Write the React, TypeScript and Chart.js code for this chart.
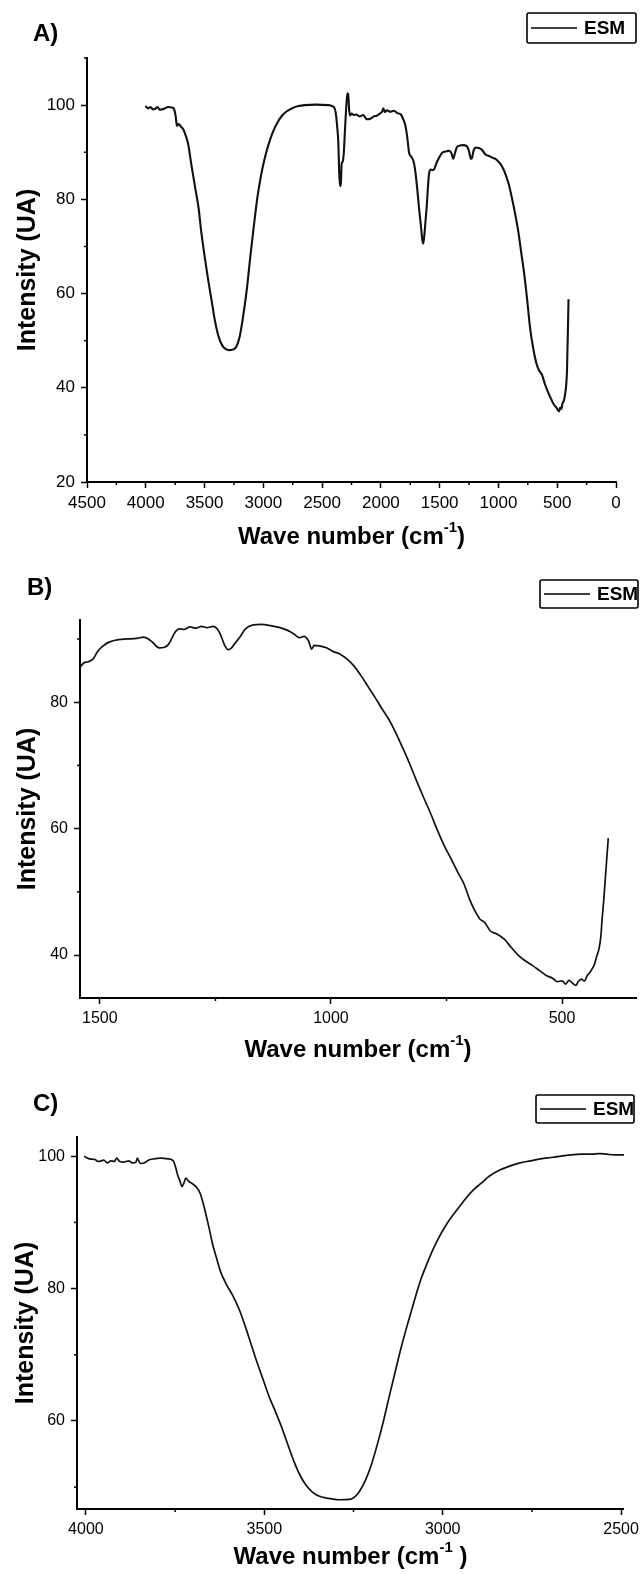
import React, { useEffect, useRef } from "react";
import { Chart, registerables } from "chart.js";

Chart.register(...registerables);

const FONT = '"Liberation Sans", Arial, Helvetica, sans-serif';

// ---------- Data ----------
const seriesLabel = "ESM";
const yAxisTitle = "Intensity (UA)";
const xAxisTitle = "Wave number (cm";
const xAxisTitleSup = "-1";

// Panel A: full spectrum
const aWave = [
  4003, 3980, 3960, 3940, 3920, 3900, 3880, 3860, 3840, 3810,
  3780, 3760, 3745, 3735, 3720, 3700, 3680, 3660, 3640, 3610,
  3580, 3550, 3530, 3500, 3470, 3440, 3410, 3380, 3350, 3320,
  3290, 3260, 3230, 3200, 3170, 3140, 3110, 3080, 3050, 3020,
  2990, 2960, 2920, 2880, 2840, 2800, 2750, 2700, 2650, 2550,
  2450, 2400, 2385, 2372, 2362, 2355, 2348, 2340, 2334, 2325,
  2315, 2305, 2295, 2285, 2278, 2270, 2262, 2250, 2230, 2210,
  2180, 2150, 2120, 2090, 2060, 2030, 2010, 1990, 1980, 1965,
  1950, 1920, 1890, 1860, 1830, 1810, 1790, 1775, 1760, 1740,
  1720, 1705, 1690, 1675, 1660, 1648, 1640, 1630, 1620, 1610,
  1600, 1590, 1575, 1560, 1545, 1530, 1510, 1490, 1470, 1440,
  1420, 1400, 1385, 1370, 1355, 1330, 1300, 1270, 1250, 1235,
  1225, 1210, 1190, 1170, 1140, 1110, 1080, 1050, 1020, 1000,
  970, 935, 910, 883, 855, 830, 805, 780, 755, 730,
  705, 675, 650, 630, 605, 580, 555, 530, 510, 495,
  485, 475, 465, 455, 443, 432, 424, 417, 413, 408,
  404,
];
const aIntensity = [
  99.8, 99.3, 99.6, 99.1, 99.2, 99.6, 99.0, 99.1, 99.3, 99.6,
  99.5, 99.2, 97.5, 95.6, 96.0, 95.4, 94.8, 93.5, 91.8, 87.0,
  82.5, 78.0, 73.5, 68.0, 63.0, 58.5, 54.0, 50.8, 49.0, 48.2,
  48.0, 48.1, 48.7, 51.0, 55.5, 61.0, 68.0, 74.5, 80.5, 85.0,
  88.5, 91.3, 94.2, 96.3, 97.8, 98.7, 99.4, 99.8, 100.0, 100.1,
  100.0, 99.6, 98.5, 95.5, 92.0, 86.0, 82.8, 83.5, 87.5, 88.0,
  90.0, 95.0, 99.5, 102.5, 102.3, 99.0, 97.8, 98.2, 97.9, 98.0,
  97.6, 97.9, 97.0, 97.1, 97.6, 97.8, 98.2, 98.6, 99.3, 98.5,
  98.9, 98.6, 98.8, 98.3, 98.0, 97.0, 95.5, 93.0, 89.9, 89.0,
  87.8, 85.5, 82.0, 78.0, 74.5, 71.5, 70.6, 72.5, 75.5, 78.5,
  82.5, 85.5, 86.3, 86.2, 86.5, 87.5, 88.6, 89.5, 90.0, 90.2,
  90.3, 89.8, 88.6, 89.8, 91.0, 91.4, 91.5, 91.3, 90.2, 88.6,
  88.8, 90.5, 91.0, 90.9, 90.5, 89.5, 89.2, 88.8, 88.5, 88.0,
  87.0, 85.0, 83.0, 80.0, 76.5, 73.0, 68.5, 64.0, 58.5, 52.5,
  48.5, 45.0, 43.5, 42.8, 40.8, 39.2, 37.8, 36.5, 35.9, 35.3,
  35.0, 35.8, 35.5, 36.7, 37.3, 38.8, 40.5, 43.5, 48.0, 53.5,
  58.8,
];
const aXTicks = [4500, 4000, 3500, 3000, 2500, 2000, 1500, 1000, 500, 0];
const aYTicks = [20, 40, 60, 80, 100];
const aXMinorTicks = [4250, 3750, 3250, 2750, 2250, 1750, 1250, 750, 250];
const aYMinorTicks = [30, 50, 70, 90, 110];

// Panel B: 1550 - 400 cm-1
const bWave = [
  1543, 1535, 1525, 1515, 1505, 1495, 1480, 1460, 1440, 1420,
  1405, 1395, 1385, 1372, 1360, 1352, 1345, 1338, 1328, 1318,
  1305, 1292, 1280, 1268, 1255, 1245, 1238, 1230, 1222, 1215,
  1208, 1198, 1185, 1170, 1150, 1130, 1110, 1095, 1080, 1068,
  1058, 1048, 1042, 1036, 1025, 1010, 995, 980, 965, 950,
  935, 920, 905, 890, 875, 860, 845, 830, 815, 800,
  785, 770, 755, 740, 725, 712, 700, 690, 678, 668,
  655, 640, 625, 610, 595, 580, 565, 550, 535, 520,
  510, 500, 492, 485, 478, 470, 465, 458, 452, 445,
  440, 435, 430, 425, 420, 416, 413, 410, 406, 402,
  400,
];
const bIntensity = [
  85.5, 86.2, 86.4, 86.8, 88.0, 88.8, 89.5, 89.9, 90.0, 90.1,
  90.3, 90.0, 89.4, 88.6, 88.7, 89.1, 90.0, 91.0, 91.6, 91.5,
  91.9, 91.7, 92.0, 91.8, 92.0, 91.5, 90.5, 89.0, 88.3, 88.6,
  89.3, 90.2, 91.6, 92.2, 92.3, 92.1, 91.8, 91.4, 90.8, 90.2,
  90.4, 89.6, 88.4, 89.0, 88.9, 88.6, 88.0, 87.6, 86.8, 85.7,
  84.2, 82.5, 80.8, 79.0, 77.3, 75.2, 72.8, 70.3, 67.6, 65.0,
  62.5, 59.8, 57.3, 55.2, 53.0, 51.2, 48.8, 47.2, 45.7, 45.2,
  43.8, 43.3, 42.5, 41.2, 40.0, 39.1, 38.4, 37.6, 36.8, 36.3,
  35.8, 35.9, 35.4, 36.0, 35.6, 35.2, 35.8, 36.2, 35.9, 36.8,
  37.2, 37.8, 38.5, 39.8, 41.0, 43.0, 46.0, 48.5, 52.5, 56.5,
  58.5,
];
const bXTicks = [1500, 1000, 500];
const bYTicks = [40, 60, 80];
const bXMinorTicks = [1250, 750];
const bYMinorTicks = [50, 70, 90];

// Panel C: 4000 - 2500 cm-1
const cWave = [
  4005, 3990, 3975, 3965, 3950, 3940, 3930, 3920, 3914, 3905,
  3895, 3880, 3870, 3860, 3856, 3848, 3835, 3825, 3810, 3790,
  3770, 3755, 3748, 3742, 3736, 3731, 3725, 3720, 3712, 3703,
  3690, 3680, 3672, 3665, 3655, 3645, 3635, 3623, 3605, 3589,
  3570, 3554, 3537, 3520, 3503, 3486, 3468, 3451, 3434, 3417,
  3400, 3383, 3366, 3349, 3320, 3291, 3257, 3245, 3234, 3217,
  3200, 3183, 3166, 3149, 3132, 3115, 3097, 3080, 3063, 3046,
  3029, 3012, 2994, 2977, 2960, 2937, 2914, 2890, 2869, 2840,
  2812, 2783, 2754, 2726, 2697, 2668, 2640, 2612, 2583, 2560,
  2540, 2520, 2492,
];
const cIntensity = [
  100.0, 99.6, 99.5, 99.2, 99.4, 99.0, 99.3, 99.2, 99.7, 99.2,
  99.1, 99.3, 99.0, 99.1, 99.7, 98.9, 99.0, 99.4, 99.6, 99.7,
  99.6, 99.3, 98.2, 97.0, 96.2, 95.4, 96.0, 96.7, 96.2, 95.9,
  95.3, 94.4, 93.0, 91.5, 89.2, 86.7, 84.8, 82.6, 80.5, 79.0,
  76.8, 74.4, 71.6, 68.8, 66.2, 63.6, 61.3, 59.0, 56.4, 53.9,
  51.8, 50.3, 49.3, 48.7, 48.3, 48.1, 48.2, 48.6, 49.3, 51.0,
  53.4, 56.5, 60.0, 63.9, 67.7, 71.4, 74.9, 78.1, 81.1, 83.5,
  85.7, 87.6, 89.3, 90.7, 91.9, 93.5, 94.9, 96.0, 97.0, 97.9,
  98.5, 99.0, 99.3, 99.6, 99.8, 100.0, 100.2, 100.3, 100.3, 100.4,
  100.3, 100.2, 100.2,
];
const cXTicks = [4000, 3500, 3000, 2500];
const cYTicks = [60, 80, 100];
const cXMinorTicks = [3750, 3250, 2750];
const cYMinorTicks = [50, 70, 90];

// ---------- Layout ----------
type PanelSpec = {
  letter: string;
  wave: number[];
  intensity: number[];
  xMin: number; xMax: number; xTicks: number[]; xMinor: number[];
  yMin: number; yMax: number; yTicks: number[]; yMinor: number[];
  top: number; height: number;
  area: { left: number; right: number; top: number; bottom: number };
  letterAt: [number, number];
  legendBox: [number, number, number, number];
  titleBaseline: number;
  titleClose: string;
  yTitleCenter: number;
  tickSize: number;
  lineWidth: number;
};

const panels: PanelSpec[] = [
  {
    letter: "A)", wave: aWave, intensity: aIntensity,
    xMin: 0, xMax: 4500, xTicks: aXTicks, xMinor: aXMinorTicks,
    yMin: 20, yMax: 110, yTicks: aYTicks, yMinor: aYMinorTicks,
    top: 0, height: 560,
    area: { left: 87, right: 616, top: 58, bottom: 482 },
    letterAt: [33, 41],
    legendBox: [527, 13, 109, 30],
    titleBaseline: 544, titleClose: ")",
    yTitleCenter: 28, tickSize: 17, lineWidth: 2.1,
  },
  {
    letter: "B)", wave: bWave, intensity: bIntensity,
    xMin: 340, xMax: 1543, xTicks: bXTicks, xMinor: bXMinorTicks,
    yMin: 33.2, yMax: 93, yTicks: bYTicks, yMinor: bYMinorTicks,
    top: 560, height: 510,
    area: { left: 80, right: 636, top: 60, bottom: 438 },
    letterAt: [27, 35],
    legendBox: [540, 20, 98, 28],
    titleBaseline: 497, titleClose: ")",
    yTitleCenter: 28, tickSize: 16, lineWidth: 1.7,
  },
  {
    letter: "C)", wave: cWave, intensity: cIntensity,
    xMin: 2492, xMax: 4025, xTicks: cXTicks, xMinor: cXMinorTicks,
    yMin: 46.7, yMax: 102.9, yTicks: cYTicks, yMinor: cYMinorTicks,
    top: 1070, height: 504,
    area: { left: 77, right: 627, top: 67, bottom: 439 },
    letterAt: [33, 41],
    legendBox: [536, 25, 98, 28],
    titleBaseline: 494, titleClose: " )",
    yTitleCenter: 26, tickSize: 16, lineWidth: 1.7,
  },
];

// ---------- Decorations plugin ----------
const decorPlugin = {
  id: "decor",
  afterDraw(chart: any, _args: any, opts: any) {
    const ctx: CanvasRenderingContext2D = chart.ctx;
    const xs = chart.scales.x;
    const ys = chart.scales.y;
    const area = chart.chartArea;
    ctx.save();
    ctx.fillStyle = "#000";
    ctx.strokeStyle = "#000";

    // minor ticks
    ctx.lineWidth = 1.5;
    for (const v of opts.xMinor as number[]) {
      const px = xs.getPixelForValue(v);
      ctx.beginPath();
      ctx.moveTo(px, area.bottom);
      ctx.lineTo(px, area.bottom + 3);
      ctx.stroke();
    }
    for (const v of opts.yMinor as number[]) {
      const py = ys.getPixelForValue(v);
      ctx.beginPath();
      ctx.moveTo(area.left, py);
      ctx.lineTo(area.left - 3, py);
      ctx.stroke();
    }

    // panel letter
    ctx.font = `bold 24px ${FONT}`;
    ctx.textAlign = "left";
    ctx.textBaseline = "alphabetic";
    ctx.fillText(opts.letter, opts.letterAt[0], opts.letterAt[1]);

    // x axis title with superscript
    const mainFont = `bold 24px ${FONT}`;
    const supFont = `bold 15px ${FONT}`;
    ctx.font = mainFont;
    const w1 = ctx.measureText(xAxisTitle).width;
    const w3 = ctx.measureText(opts.titleClose).width;
    ctx.font = supFont;
    const w2 = ctx.measureText(xAxisTitleSup).width;
    const cx = (area.left + area.right) / 2;
    const x0 = cx - (w1 + w2 + w3) / 2;
    const base = opts.titleBaseline;
    ctx.font = mainFont;
    ctx.fillText(xAxisTitle, x0, base);
    ctx.font = supFont;
    ctx.fillText(xAxisTitleSup, x0 + w1, base - 12);
    ctx.font = mainFont;
    ctx.fillText(opts.titleClose, x0 + w1 + w2, base);

    // legend box
    const [lx, ly, lw, lh] = opts.legendBox as number[];
    ctx.lineWidth = 1.6;
    ctx.beginPath();
    if ((ctx as any).roundRect) (ctx as any).roundRect(lx, ly, lw, lh, 2);
    else ctx.rect(lx, ly, lw, lh);
    ctx.stroke();
    const cy = ly + lh / 2;
    const ds = chart.data.datasets[0];
    ctx.beginPath();
    ctx.moveTo(lx + 4, cy);
    ctx.lineTo(lx + 50, cy);
    ctx.stroke();
    ctx.font = `bold 19px ${FONT}`;
    ctx.textBaseline = "middle";
    ctx.fillText(ds.label, lx + 57, cy + 1);

    ctx.restore();
  },
};

function buildConfig(p: PanelSpec): any {
  const points = p.wave.map((w, i) => ({ x: w, y: p.intensity[i] }));
  const xAxisHeight = p.height - p.area.bottom;
  const tickFont = { family: FONT, size: p.tickSize };
  return {
    type: "line",
    data: {
      datasets: [
        {
          label: seriesLabel,
          data: points,
          borderColor: "#111",
          borderWidth: p.lineWidth,
          pointRadius: 0,
          cubicInterpolationMode: "monotone",
          fill: false,
        },
      ],
    },
    options: {
      animation: false,
      responsive: false,
      events: [],
      layout: {
        padding: { left: 0, top: p.area.top, right: 644 - p.area.right, bottom: 0 },
      },
      plugins: {
        legend: { display: false },
        tooltip: { enabled: false },
        decor: {
          letter: p.letter,
          letterAt: p.letterAt,
          legendBox: p.legendBox,
          titleBaseline: p.titleBaseline,
          titleClose: p.titleClose,
          xMinor: p.xMinor,
          yMinor: p.yMinor,
        },
      },
      scales: {
        x: {
          type: "linear",
          reverse: true,
          min: p.xMin,
          max: p.xMax,
          afterBuildTicks: (s: any) => { s.ticks = p.xTicks.map((v) => ({ value: v })); },
          afterFit: (s: any) => { s.height = xAxisHeight; },
          border: { display: true, color: "#000", width: 2 },
          grid: {
            display: true, drawOnChartArea: false, drawTicks: true,
            tickLength: 6, color: "#000", tickColor: "#000", tickWidth: 1.5,
          },
          ticks: {
            autoSkip: false, maxRotation: 0, minRotation: 0,
            color: "#000", font: tickFont, padding: 5,
            callback: (v: number) => String(v),
          },
        },
        y: {
          type: "linear",
          min: p.yMin,
          max: p.yMax,
          afterBuildTicks: (s: any) => { s.ticks = p.yTicks.map((v) => ({ value: v })); },
          afterFit: (s: any) => { s.width = p.area.left; },
          border: { display: true, color: "#000", width: 2 },
          grid: {
            display: true, drawOnChartArea: false, drawTicks: true,
            tickLength: 6, color: "#000", tickColor: "#000", tickWidth: 1.5,
          },
          ticks: {
            autoSkip: false, color: "#000", font: tickFont, padding: 6,
            callback: (v: number) => String(v),
          },
          title: {
            display: true,
            text: yAxisTitle,
            color: "#000",
            font: { family: FONT, size: 25, weight: "bold", lineHeight: 1 },
            padding: { top: p.yTitleCenter - 12.5, bottom: 0 },
          },
        },
      },
    },
    plugins: [decorPlugin],
  };
}

function PanelChart({ spec }: { spec: PanelSpec }) {
  const ref = useRef<HTMLCanvasElement>(null);
  useEffect(() => {
    if (!ref.current) return;
    const chart = new Chart(ref.current, buildConfig(spec));
    return () => chart.destroy();
  }, [spec]);
  return (
    <canvas
      ref={ref}
      width={644}
      height={spec.height}
      style={{ position: "absolute", left: 0, top: spec.top, width: 644, height: spec.height }}
    />
  );
}

export default function App() {
  return (
    <div
      style={{
        position: "absolute",
        left: 0,
        top: 0,
        width: 644,
        height: 1574,
        background: "#fff",
        overflow: "hidden",
      }}
    >
      {panels.map((p) => (
        <PanelChart key={p.letter} spec={p} />
      ))}
    </div>
  );
}
